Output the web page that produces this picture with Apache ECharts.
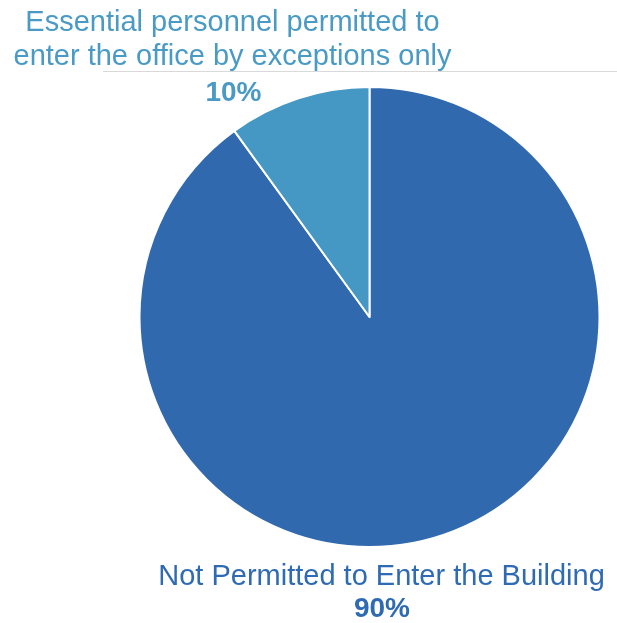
<!DOCTYPE html>
<html>
<head>
<meta charset="utf-8">
<script src="https://cdn.jsdelivr.net/npm/echarts@6/dist/echarts.min.js"></script>
<style>
  html, body { margin: 0; padding: 0; background: #ffffff; }
  #chart { width: 617px; height: 623px; }
</style>
</head>
<body>
<div id="chart"></div>
<script>
// Office access policy split
const categories = [
  'Not Permitted to Enter the Building',
  'Essential personnel permitted to\nenter the office by exceptions only'
];
const shares = [90, 10];
const sliceColors = ['#3169ae', '#4597c4'];
const labelColors = ['#2f6bb3', '#4a9ac6'];

const chart = echarts.init(document.getElementById('chart'), null, { renderer: 'canvas' });

const total = shares.reduce((a, b) => a + b, 0);
const pct = shares.map(v => Math.round(v / total * 100) + '%');

const FONT = '"Liberation Sans", Arial, sans-serif';

// Label texts built from the arrays
const bigLines = categories[0].split('\n');
const smallLines = categories[1].split('\n');

const textEls = [];
// bottom label (large slice)
textEls.push({
  type: 'text', x: 381.5, y: 576.5,
  style: { text: bigLines[0], fill: labelColors[0], font: '29px ' + FONT,
           textAlign: 'center', textVerticalAlign: 'middle' }
});
textEls.push({
  type: 'text', x: 382, y: 609,
  style: { text: pct[0], fill: labelColors[0], font: 'bold 28px ' + FONT,
           textAlign: 'center', textVerticalAlign: 'middle' }
});
// top label (small slice)
const topYs = [23, 56.5];
smallLines.forEach((line, i) => {
  textEls.push({
    type: 'text', x: 232.5, y: topYs[i],
    style: { text: line, fill: labelColors[1], font: '29px ' + FONT,
             textAlign: 'center', textVerticalAlign: 'middle' }
  });
});
textEls.push({
  type: 'text', x: 233.5, y: 93,
  style: { text: pct[1], fill: labelColors[1], font: 'bold 28px ' + FONT,
           textAlign: 'center', textVerticalAlign: 'middle' }
});

chart.setOption({
  backgroundColor: '#ffffff',
  animation: false,
  graphic: [
    {
      type: 'line',
      shape: { x1: 103, y1: 71.5, x2: 617, y2: 71.5 },
      style: { stroke: '#d9d9d9', lineWidth: 1 },
      z: 1
    },
    ...textEls
  ],
  series: [{
    type: 'pie',
    center: [369.5, 317],
    radius: 230,
    startAngle: 90,
    clockwise: true,
    label: { show: false },
    labelLine: { show: false },
    emphasis: { disabled: true },
    itemStyle: { borderColor: '#ffffff', borderWidth: 2 },
    data: categories.map((name, i) => ({
      name: name,
      value: shares[i],
      itemStyle: { color: sliceColors[i] }
    }))
  }]
});
</script>
</body>
</html>
